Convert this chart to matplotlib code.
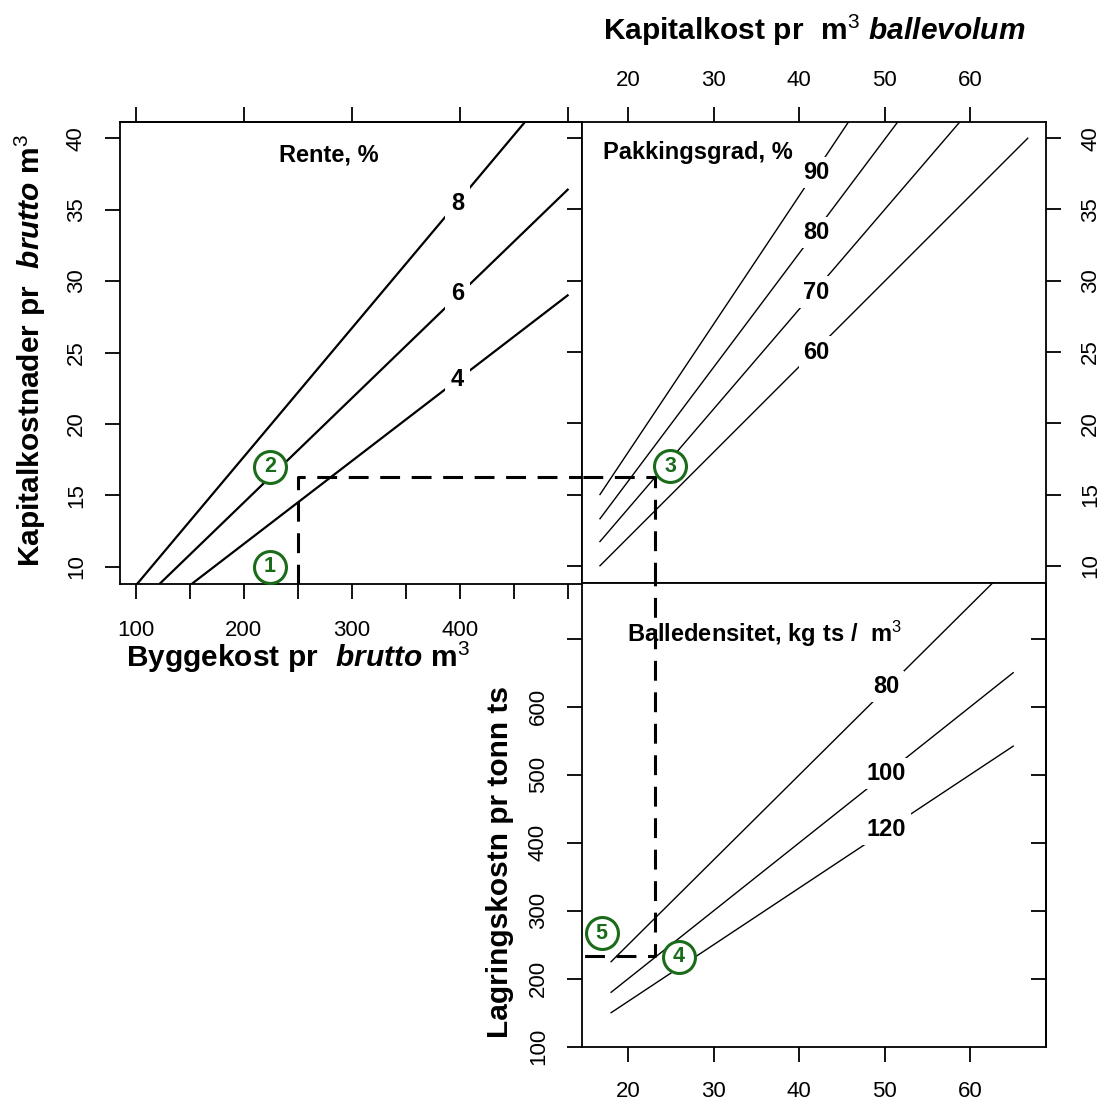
import matplotlib
matplotlib.use('Agg')
import matplotlib.pyplot as plt

plt.rcParams['font.family'] = ['Liberation Sans', 'DejaVu Sans']
plt.rcParams['mathtext.fontset'] = 'custom'
plt.rcParams['mathtext.rm'] = 'Liberation Sans:bold'
plt.rcParams['mathtext.it'] = 'Liberation Sans:italic:bold'
plt.rcParams['mathtext.bf'] = 'Liberation Sans:bold'
plt.rcParams['mathtext.sf'] = 'Liberation Sans'

# --- data ---
# panel 1: Byggekost -> Kapitalkostnader, one line per rente
bygg = [100, 500]
kap_r4 = [5.8, 29.0]
kap_r6 = [7.2, 36.4]
kap_r8 = [8.7, 44.7]
rente_lbl = ['4', '6', '8']

# panel 2: Kapitalkost pr m3 ballevolum vs kapitalkost, one line per pakkingsgrad
ball = [16.7, 66.7]
kap_p60 = [10.0, 40.0]
kap_p70 = [11.7, 46.7]
kap_p80 = [13.3, 53.3]
kap_p90 = [15.0, 60.0]
pakk_lbl = ['60', '70', '80', '90']

# panel 3: lagringskostnad, one line per balledensitet
ball_lag = [18, 65]
lag_d80 = [225, 812]
lag_d100 = [180, 650]
lag_d120 = [150, 542]
dens_lbl = ['80', '100', '120']

# worked example (dashed path) and step markers
bygg_sel = 250
kap_sel = 16.25
ball_sel = 23.1
lag_sel = 234
step_lbl = ['1', '2', '3', '4', '5']

W = 1106
GREEN = '#1a6b1a'
DASH = (0, (6.5, 3.8))

fig = plt.figure(figsize=(11.06, 11.06), dpi=100)


def box(l, t, r, b):
    return [l / W, 1 - b / W, (r - l) / W, (b - t) / W]


def fpos(x, y):
    return x / W, 1 - y / W


ax1 = fig.add_axes(box(120, 121.7, 582, 584.3))
ax2 = fig.add_axes(box(582, 121.7, 1045.7, 583.3))
ax3 = fig.add_axes(box(582, 583.3, 1045.7, 1046.7))

for ax in (ax1, ax2, ax3):
    for sp in ax.spines.values():
        sp.set_linewidth(1.3)
    ax.tick_params(direction='out', length=10.8, width=1.3, labelsize=16, pad=15)
    ax.tick_params(axis='y', labelrotation=90, pad=13)

# ---- panel 1 ----
ax1.set_xlim(85.2, 513.3)
ax1.set_ylim(8.77, 41.16)
ax1.set_xticks(list(range(100, 501, 50)))
ax1.set_xticklabels(['100', '', '200', '', '300', '', '400', '', ''])
ax1.set_yticks(list(range(10, 41, 5)))
ax1.set_yticklabels([str(v) for v in range(10, 41, 5)], va='center')
sec = ax1.secondary_xaxis('top')
sec.set_xticks(list(range(100, 501, 100)))
sec.set_xticklabels([])
sec.tick_params(direction='out', length=10.8, width=1.3)
sec.spines['top'].set_linewidth(1.3)

for ys in (kap_r4, kap_r6, kap_r8):
    ax1.plot(bygg, ys, color='k', lw=1.6)
for lbl, yv in zip(rente_lbl, [23.1, 29.1, 35.4]):
    ax1.text(398, yv, lbl, ha='center', va='center', fontsize=17, fontweight='bold',
             bbox=dict(fc='white', ec='none', pad=4.5), zorder=4)

ax1.plot([bygg_sel, bygg_sel, 600], [0, kap_sel, kap_sel], color='k', lw=2.2, ls=DASH, zorder=3)

# ---- panel 2 ----
ax2.set_xlim(14.6, 68.8)
ax2.set_ylim(8.77, 41.16)
ax2.xaxis.set_ticks_position('both')
ax2.yaxis.set_ticks_position('both')
ax2.set_xticks(list(range(20, 61, 10)))
ax2.set_xticklabels([str(v) for v in range(20, 61, 10)])
ax2.set_yticks(list(range(10, 41, 5)))
ax2.set_yticklabels([str(v) for v in range(10, 41, 5)], va='center')
ax2.tick_params(axis='x', labeltop=True, labelbottom=False, pad=11)
ax2.tick_params(axis='y', labelright=True, labelleft=False, pad=14)

for ys in (kap_p60, kap_p70, kap_p80, kap_p90):
    ax2.plot(ball, ys, color='k', lw=1.0)
for lbl, yv in zip(pakk_lbl, [25.0, 29.2, 33.4, 37.6]):
    ax2.text(42, yv, lbl, ha='center', va='center', fontsize=17, fontweight='bold',
             bbox=dict(fc='white', ec='none', pad=3), zorder=4)

ax2.plot([0, ball_sel, ball_sel], [kap_sel, kap_sel, 0], color='k', lw=2.2, ls=DASH, zorder=3)

# ---- panel 3 ----
ax3.set_xlim(14.6, 68.8)
ax3.set_ylim(100, 781.5)
ax3.set_xticks(list(range(20, 61, 10)))
ax3.set_xticklabels([str(v) for v in range(20, 61, 10)])
ax3.tick_params(axis='x', pad=14)
ax3.set_yticks(list(range(100, 701, 100)))
ax3.set_yticklabels([str(v) for v in range(100, 601, 100)] + [''], va='center')
sec3 = ax3.secondary_yaxis('right')
sec3.set_yticks(list(range(200, 701, 100)))
sec3.set_yticklabels([])
sec3.tick_params(direction='in', length=10.8, width=1.3)
sec3.spines['right'].set_linewidth(1.3)

for ys in (lag_d80, lag_d100, lag_d120):
    ax3.plot(ball_lag, ys, color='k', lw=1.0)
for lbl, yv in zip(dens_lbl, [630, 502, 420]):
    ax3.text(50.2, yv, lbl, ha='center', va='center', fontsize=17, fontweight='bold',
             bbox=dict(fc='white', ec='none', pad=3), zorder=4)

ax3.plot([ball_sel, ball_sel, 0], [900, lag_sel, lag_sel], color='k', lw=2.2, ls=DASH, zorder=3)

# ---- step markers ----
steps = [(ax1, 224, 10.0), (ax1, 224, 17.0), (ax2, 24.9, 17.0), (ax3, 25.9, 232), (ax3, 16.9, 267)]
for lbl, (ax, sx, sy) in zip(step_lbl, steps):
    ax.plot([sx], [sy], 'o', ms=23, mfc='white', mec=GREEN, mew=2.2, zorder=6, clip_on=False)
    ax.text(sx, sy, lbl, color=GREEN, fontsize=15.5, fontweight='bold',
            ha='center', va='center', zorder=7)

# ---- titles and axis labels ----
fig.text(*fpos(329, 155), 'Rente, %', ha='center', va='center', fontsize=17, fontweight='bold')
fig.text(*fpos(698, 152), 'Pakkingsgrad, %', ha='center', va='center', fontsize=17, fontweight='bold')
fig.text(*fpos(765, 634), r'$\mathrm{Balledensitet{,}\ kg\ ts\ /\ \ m}^{\mathsf{3}}$',
         ha='center', va='center', fontsize=17)

fig.text(*fpos(814, 30), r'$\mathrm{Kapitalkost\ pr\ \ m}^{\mathsf{3}}\ \mathit{ballevolum}$',
         ha='center', va='center', fontsize=21.5)
fig.text(*fpos(298, 657), r'$\mathrm{Byggekost\ pr\ \ }\mathit{brutto}\mathrm{\ m}^{\mathsf{3}}$',
         ha='center', va='center', fontsize=21.5)
fig.text(*fpos(30, 350), r'$\mathrm{Kapitalkostnader\ pr\ \ }\mathit{brutto}\mathrm{\ m}^{\mathsf{3}}$',
         ha='center', va='center', fontsize=21.5, rotation=90)
fig.text(*fpos(500, 862), 'Lagringskostn pr tonn ts', ha='center', va='center',
         fontsize=21.5, fontweight='bold', rotation=90)

fig.savefig('out.png', dpi=100, facecolor='white')
